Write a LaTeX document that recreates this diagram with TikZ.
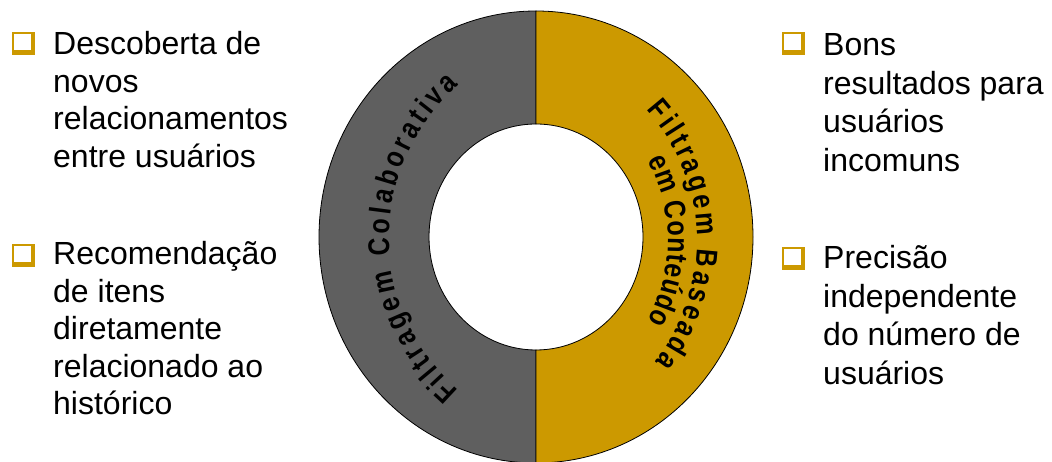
\documentclass[tikz,border=0pt]{standalone}
\usepackage{fontspec}
\setmainfont{Liberation Sans}
\newfontfamily\ringfam{Liberation Sans}
\definecolor{gold}{HTML}{CC9900}
\definecolor{ringgray}{HTML}{5F5F5F}
\newcommand\rf{\ringfam\bfseries\fontsize{25}{30}\selectfont}
% #1 cx, #2 cy, #3 baseline radius, #4 mid angle, #5 letter spacing,
% #6 letter/width(1/1000 em) pairs, #7 name prefix
\newcommand\arcline[7]{%
  \xdef\rtot{0}%
  \foreach \ch/\cw in {#6}{%
    \pgfmathsetmacro\tmp{\rtot+\cw*0.025+#5}%
    \xdef\rtot{\tmp}}%
  \pgfmathsetmacro\tmp{\rtot-#5}\xdef\rtot{\tmp}%
  \xdef\rpos{0}%
  \foreach \ch/\cw [count=\k] in {#6}{%
    \pgfmathsetmacro\w{\cw*0.025}%
    \pgfmathsetmacro\ang{#4+(\rtot/2-\rpos-\w/2)/(#3)*180/pi}%
    \pgfmathsetmacro\px{#1+(#3)*cos(\ang)}%
    \pgfmathsetmacro\py{#2+(#3)*sin(\ang)}%
    \node[ringletter,rotate=\ang-90,yscale=1.2] (#7-\k) at (\px,\py) {\ch};%
    \pgfmathsetmacro\tmp{\rpos+\w+#5}%
    \xdef\rpos{\tmp}}%
}
\begin{document}
\begin{tikzpicture}[x=1pt,y=1pt,
  ringletter/.style={font=\rf, inner sep=0pt, anchor=base},
  bullettext/.style={anchor=base west, inner sep=0pt, font=\fontsize{32}{#1}\selectfont},
  bulletbox/.style={rectangle, anchor=south west, minimum width=23pt, minimum height=23pt,
    inner sep=0pt, fill=gold,
    path picture={\fill[white] ([xshift=2.2pt,yshift=-2.2pt]path picture bounding box.north west)
      rectangle ([xshift=-4.5pt,yshift=5pt]path picture bounding box.south east);}},
  ringedge/.style={draw=black, line width=0.8pt}]
\useasboundingbox (0,0) rectangle (1052,462);
% ring halves
\filldraw[ringedge, fill=ringgray] (536,451)
  arc[start angle=90, end angle=270, x radius=217pt, y radius=226pt] -- (536,112)
  arc[start angle=270, end angle=90, x radius=107pt, y radius=113pt] -- cycle;
\filldraw[ringedge, fill=gold] (536,451)
  arc[start angle=90, end angle=-90, x radius=217pt, y radius=226pt] -- (536,112)
  arc[start angle=-90, end angle=90, x radius=107pt, y radius=113pt] -- cycle;
% ring texts
\arcline{591}{224}{202}{180}{3.6}{F/611,i/278,l/278,t/333,r/389,a/556,g/611,e/556,m/889,~/278,C/722,o/611,l/278,a/556,b/611,o/611,r/389,a/556,t/333,i/278,v/556,a/556}{colab}
\arcline{501}{221}{196}{2}{3.2}{F/611,i/278,l/278,t/333,r/389,a/556,g/611,e/556,m/889,~/278,B/722,a/556,s/556,e/556,a/556,d/611,a/556}{based}
\arcline{501}{221}{167}{0}{0.8}{e/556,m/889,~/278,C/722,o/611,n/611,t/333,e/556,ú/611,d/611,o/611}{conteudo}
% left bullets
\node[bulletbox] (bl1) at (12,407) {};
\node[bullettext=37.5] (tl1) at (53,407) {\begin{tabular}[t]{@{}l@{}}Descoberta de\\novos\\relacionamentos\\entre usuários\end{tabular}};
\node[bulletbox] (bl2) at (12,195) {};
\node[bullettext=37.5] (tl2) at (53,197) {\begin{tabular}[t]{@{}l@{}}Recomendação\\de itens\\diretamente\\relacionado ao\\histórico\end{tabular}};
% right bullets
\node[bulletbox] (br1) at (782,407) {};
\node[bullettext=38.5] (tr1) at (823,406) {\begin{tabular}[t]{@{}l@{}}Bons\\resultados para\\usuários\\incomuns\end{tabular}};
\node[bulletbox] (br2) at (782,192) {};
\node[bullettext=38.5] (tr2) at (823,193) {\begin{tabular}[t]{@{}l@{}}Precisão\\independente\\do número de\\usuários\end{tabular}};
\end{tikzpicture}
\end{document}
